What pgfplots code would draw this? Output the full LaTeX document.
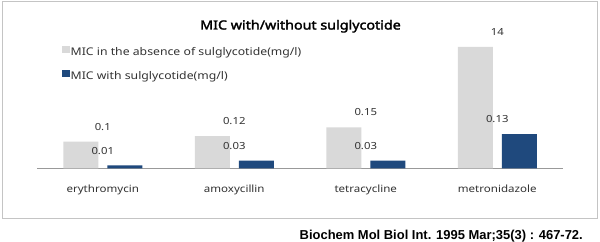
\documentclass[border=0pt]{standalone}
\usepackage{pgfplots}
\pgfplotsset{compat=1.18}
\usepackage{pgfplotstable}
\usepackage{fontspec}
\setmainfont{Noto Sans}[FakeStretch=1.16]
\newfontfamily\titlefont{Noto Sans}[FakeStretch=1.14, FakeBold=2.2]
\newfontfamily\citefont{Liberation Sans}
\definecolor{barGray}{HTML}{D9D9D9}
\definecolor{barBlue}{HTML}{1F497D}
\definecolor{txt}{HTML}{333333}
\definecolor{frameC}{HTML}{C4C4C4}
\definecolor{axisC}{HTML}{999999}

% x: category position; h: drawn bar height; lab: printed MIC value (mg/l)
\pgfplotstableread{
x   h       lab
0   0.0985  0.1
1   0.1196  0.12
2   0.1519  0.15
3   0.4500  14
}\absent
\pgfplotstableread{
x   h       lab
0   0.0111  0.01
1   0.0280  0.03
2   0.0280  0.03
3   0.1270  0.13
}\withsul

\begin{document}
\begin{tikzpicture}
\path[use as bounding box] (0,0) rectangle (600bp,242bp);
\fill[white] (0,0) rectangle (600bp,242bp);
\draw[frameC, line width=1bp] (2.7bp,23.5bp) rectangle (597.7bp,240.5bp);
\node[anchor=base, font=\titlefont\fontsize{12.6}{14}\selectfont, text=black]
  at (300.5bp,212.5bp) {MIC with/without sulglycotide};
\node[anchor=base east, inner sep=0pt, font=\citefont\bfseries\fontsize{13}{15}\selectfont, text=black]
  at (583bp,3bp) {Biochem Mol Biol Int. 1995 Mar;35(3) : 467-72.};
\begin{axis}[
  at={(37bp,73.7bp)}, anchor=south west,
  scale only axis, width=526bp, height=148.3bp,
  xmin=-0.5, xmax=3.5, ymin=0, ymax=0.5493,
  hide y axis,
  axis x line*=bottom,
  x axis line style={-, draw=axisC, line width=0.8bp},
  xtick={0,1,2,3},
  xticklabels={erythromycin, amoxycillin, tetracycline, metronidazole},
  major tick length=0pt,
  xticklabel style={anchor=base, yshift=-24bp, text=txt, font=\fontsize{10}{11}\selectfont},
  clip=false,
  point meta=explicit symbolic,
  nodes near coords,
  every node near coord/.append style={anchor=base, inner sep=0pt, yshift=11.3bp, text=txt, font=\fontsize{9.8}{11}\selectfont},
  legend style={at={(0.0475,0.828)}, anchor=north west, draw=none, fill=none,
    inner sep=0pt, row sep=10.6bp,
    font=\fontsize{10.6}{12}\selectfont, text=txt,
    nodes={inner sep=1bp, text height=7.8bp, text depth=2.6bp}},
  legend cell align=left,
  legend image code/.code={\fill[#1] (0bp,-0.5bp) rectangle (7.5bp,7bp);},
]
\addplot[ybar, bar width=35bp, bar shift=-22bp, fill=barGray, draw=none]
  table[x=x, y=h, meta=lab] {\absent};
\addlegendentry{MIC in the absence of sulglycotide(mg/l)}
\addplot[ybar, bar width=35bp, bar shift=22bp, fill=barBlue, draw=none]
  table[x=x, y=h, meta=lab] {\withsul};
\addlegendentry{MIC with sulglycotide(mg/l)}
\end{axis}
\end{tikzpicture}
\end{document}
